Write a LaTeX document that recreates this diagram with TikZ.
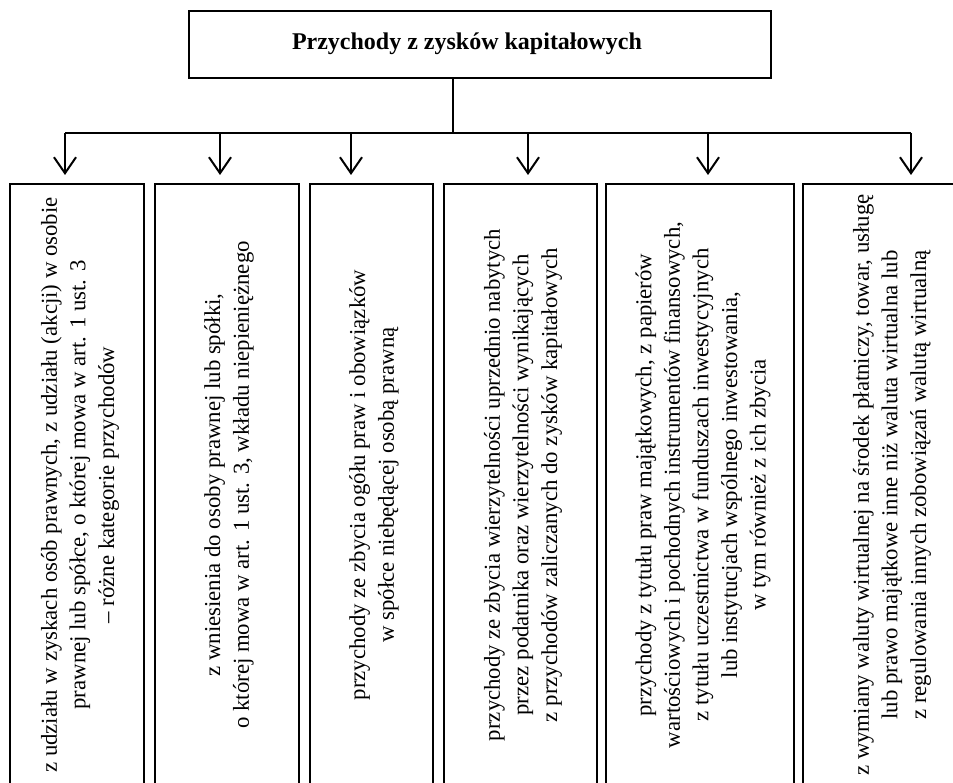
\documentclass[tikz,border=0pt]{standalone}
\usepackage{fontspec}
\setmainfont{Liberation Serif}
\usetikzlibrary{arrows.meta}
\begin{document}
\begin{tikzpicture}[x=1pt,y=-1pt,
  boxstyle/.style={draw=black, line width=1.6pt, inner sep=0pt, anchor=north west},
  txtstyle/.style={rotate=90, align=center, inner sep=0pt, font=\fontsize{22.8}{28.6}\selectfont},
  conn/.style={line width=2pt},
  arr/.style={line width=2pt, -{Straight Barb[length=16pt,width=22pt,line width=2pt]}, shorten >=8pt}]
\useasboundingbox (0,0) rectangle (953,783);
\clip (0,0) rectangle (953,783);
\fill[white] (0,0) rectangle (953,783);
% title
\node[boxstyle, minimum width=582pt, minimum height=67pt] (top) at (188,10) {};
\node[font=\fontsize{24}{28}\selectfont\bfseries, inner sep=0pt] (title) at (467,44) {Przychody z zysków kapitałowych};
% boxes
\node[boxstyle, minimum width=134pt, minimum height=604pt] (b1) at (9,183) {};
\node[boxstyle, minimum width=144pt, minimum height=604pt] (b2) at (154,183) {};
\node[boxstyle, minimum width=123pt, minimum height=604pt] (b3) at (309,183) {};
\node[boxstyle, minimum width=153pt, minimum height=604pt] (b4) at (443,183) {};
\node[boxstyle, minimum width=188pt, minimum height=604pt] (b5) at (605,183) {};
\node[boxstyle, minimum width=180pt, minimum height=604pt] (b6) at (802,183) {};
% texts
\node[txtstyle] (t1) at (80,485) {z udziału w zyskach osób prawnych, z udziału (akcji) w osobie\\prawnej lub spółce, o której mowa w art. 1 ust. 3\\– różne kategorie przychodów};
\node[txtstyle] (t2) at (229,485) {z wniesienia do osoby prawnej lub spółki,\\o której mowa w art. 1 ust. 3, wkładu niepieniężnego};
\node[txtstyle] (t3) at (374,485) {przychody ze zbycia ogółu praw i obowiązków\\w spółce niebędącej osobą prawną};
\node[txtstyle] (t4) at (523,485) {przychody ze zbycia wierzytelności uprzednio nabytych\\przez podatnika oraz wierzytelności wynikających\\z przychodów zaliczanych do zysków kapitałowych};
\node[txtstyle] (t5) at (703,485) {przychody z tytułu praw majątkowych, z papierów\\wartościowych i pochodnych instrumentów finansowych,\\z tytułu uczestnictwa w funduszach inwestycyjnych\\lub instytucjach wspólnego inwestowania,\\w tym również z ich zbycia};
\node[txtstyle] (t6) at (892,485) {z wymiany waluty wirtualnej na środek płatniczy, towar, usługę\\lub prawo majątkowe inne niż waluta wirtualna lub\\z regulowania innych zobowiązań walutą wirtualną};
% connectors
\coordinate (j) at (453,133);
\coordinate (c1) at (65,133);
\coordinate (c2) at (220,133);
\coordinate (c3) at (351,133);
\coordinate (c4) at (528,133);
\coordinate (c5) at (708,133);
\coordinate (c6) at (911,133);
\draw[conn] (top.south -| j) -- (j);
\draw[conn] (c1) -- (c6);
\draw[arr] (c1) -- (c1 |- b1.north);
\draw[arr] (c2) -- (c2 |- b2.north);
\draw[arr] (c3) -- (c3 |- b3.north);
\draw[arr] (c4) -- (c4 |- b4.north);
\draw[arr] (c5) -- (c5 |- b5.north);
\draw[arr] (c6) -- (c6 |- b6.north);
\end{tikzpicture}
\end{document}
